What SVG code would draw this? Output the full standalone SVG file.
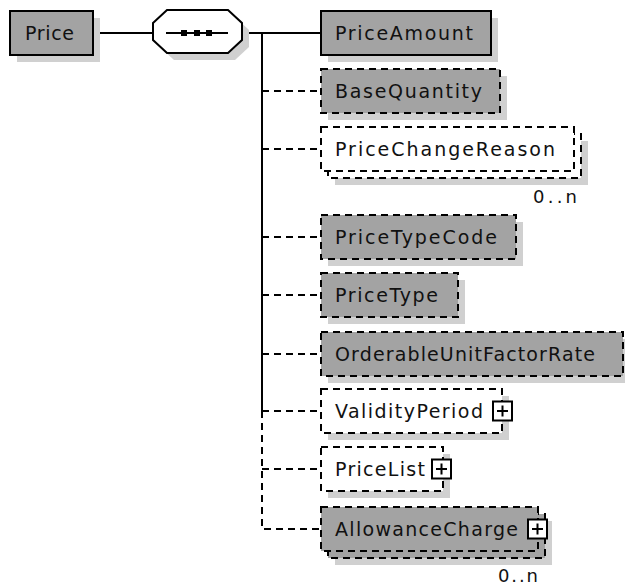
<svg xmlns="http://www.w3.org/2000/svg" width="625" height="586" viewBox="0 0 625 586">
<style>
.bg{fill:#ffffff}
.sh{fill:#d0d0d0;stroke:none}
.solid{fill:#a3a3a3;stroke:#000;stroke-width:2}
.gd{fill:#a3a3a3;stroke:#000;stroke-width:2;stroke-dasharray:7 5}
.wd{fill:#ffffff;stroke:#000;stroke-width:2;stroke-dasharray:7 5}
.lbl{font-family:"DejaVu Sans",Verdana,sans-serif;font-size:19px;fill:#111}
.occ{font-family:"DejaVu Sans",Verdana,sans-serif;font-size:18px;fill:#111}
.ln{fill:none;stroke:#000;stroke-width:2}
.dl{fill:none;stroke:#000;stroke-width:2;stroke-dasharray:7 5}
.plus{fill:#fff;stroke:#000;stroke-width:2}
</style>
<rect class="bg" x="0" y="0" width="625" height="586"/>
<g id="connectors">
<path class="ln" d="M93 33H153"/>
<path class="ln" d="M242 33H262"/>
<path class="ln" d="M262 32V411"/>
<path class="dl" d="M262 411V529H321"/>
<path class="ln" d="M262 33H321"/>
<path class="dl" d="M262 91H321"/>
<path class="dl" d="M262 149H321"/>
<path class="dl" d="M262 237H321"/>
<path class="dl" d="M262 295H321"/>
<path class="dl" d="M262 354H321"/>
<path class="dl" d="M262 411H321"/>
<path class="dl" d="M262 469H321"/>
</g>
<g id="Price">
<rect class="sh" x="17" y="18" width="83" height="44"/>
<rect class="solid" x="10" y="11" width="83" height="44"/>
<text class="lbl" x="25" y="40" textLength="49">Price</text>
</g>
<g id="sequence">
<polygon class="sh" points="160,30 174,17 235,17 249,30 249,47 235,60 174,60 160,47"/>
<polygon fill="#fff" stroke="#000" stroke-width="2" points="153,23 167,10 228,10 242,23 242,40 228,53 167,53 153,40"/>
<path class="ln" d="M166 33H228"/>
<rect x="181" y="30" width="6" height="6" fill="#000"/>
<rect x="194" y="30" width="6" height="6" fill="#000"/>
<rect x="206" y="30" width="6" height="6" fill="#000"/>
</g>
<g id="PriceAmount">
<rect class="sh" x="328" y="18" width="170" height="44"/>
<rect class="solid" x="321" y="11" width="170" height="44"/>
<text class="lbl" x="335" y="40" textLength="138">PriceAmount</text>
</g>
<g id="BaseQuantity">
<rect class="sh" x="328" y="76" width="179" height="44"/>
<rect class="gd" x="321" y="69" width="179" height="44"/>
<text class="lbl" x="335" y="98" textLength="147">BaseQuantity</text>
</g>
<g id="PriceChangeReason">
<rect class="sh" x="335" y="141" width="253" height="44"/>
<rect class="wd" x="328" y="134" width="253" height="44"/>
<rect class="wd" x="321" y="127" width="253" height="44"/>
<text class="lbl" x="335" y="156" textLength="220">PriceChangeReason</text>
<text class="occ" x="533" y="203" textLength="44">0..n</text>
</g>
<g id="PriceTypeCode">
<rect class="sh" x="328" y="222" width="195" height="44"/>
<rect class="gd" x="321" y="215" width="195" height="44"/>
<text class="lbl" x="335" y="244" textLength="162">PriceTypeCode</text>
</g>
<g id="PriceType">
<rect class="sh" x="328" y="280" width="137" height="44"/>
<rect class="gd" x="321" y="273" width="137" height="44"/>
<text class="lbl" x="335" y="302" textLength="103">PriceType</text>
</g>
<g id="OrderableUnitFactorRate">
<rect class="sh" x="328" y="339" width="302" height="44"/>
<rect class="gd" x="321" y="332" width="302" height="44"/>
<text class="lbl" x="335" y="361" textLength="260">OrderableUnitFactorRate</text>
</g>
<g id="ValidityPeriod">
<rect class="sh" x="328" y="396" width="181" height="44"/>
<rect class="wd" x="321" y="389" width="181" height="44"/>
<text class="lbl" x="335" y="418" textLength="148">ValidityPeriod</text>
<rect class="plus" x="493" y="401.5" width="19" height="19"/>
<path class="ln" d="M497 411H508M502.5 405.5V416.5"/>
</g>
<g id="PriceList">
<rect class="sh" x="328" y="454" width="122" height="44"/>
<rect class="wd" x="321" y="447" width="122" height="44"/>
<text class="lbl" x="335" y="476" textLength="90">PriceList</text>
<rect class="plus" x="432" y="459.5" width="19" height="19"/>
<path class="ln" d="M436 469H447M441.5 463.5V474.5"/>
</g>
<g id="AllowanceCharge">
<rect class="sh" x="335" y="521" width="217" height="44"/>
<rect class="gd" x="328" y="514" width="217" height="44"/>
<rect class="gd" x="321" y="507" width="217" height="44"/>
<text class="lbl" x="335" y="536" textLength="183">AllowanceCharge</text>
<rect class="plus" x="528" y="519.5" width="19" height="19"/>
<path class="ln" d="M532 529H543M537.5 523.5V534.5"/>
<text class="occ" x="498" y="582" textLength="40">0..n</text>
</g>
</svg>
